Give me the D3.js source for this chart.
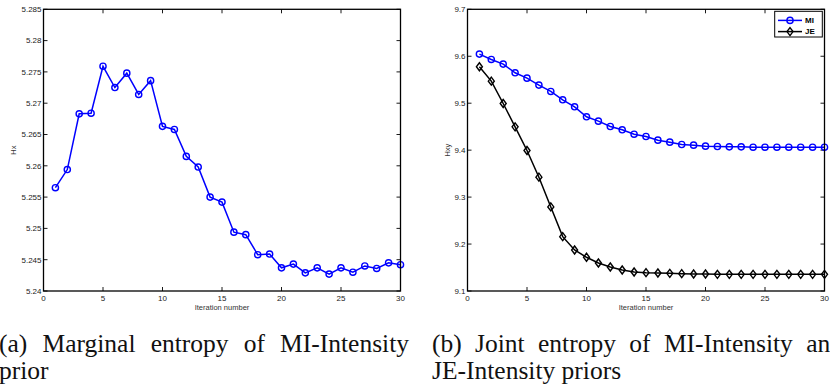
<!DOCTYPE html>
<html>
<head>
<meta charset="utf-8">
<script src="https://cdn.jsdelivr.net/npm/d3@7"></script>
<style>
  html, body { margin: 0; padding: 0; background: #fff; overflow: hidden; }
  svg { display: block; }
  .tick-label { font-family: "Liberation Sans", Arial, sans-serif; font-size: 8px; fill: #222; }
  .axis-title { font-family: "Liberation Sans", Arial, sans-serif; font-size: 7.5px; fill: #333; }
  .caption { font-family: "Liberation Serif", "Times New Roman", serif; font-size: 25.5px; fill: #111; }
</style>
</head>
<body>
<svg id="chart" width="830" height="385"></svg>
<script>
// Iteration index shared by both panels
const iterations = d3.range(1, 31);

// Panel (a): marginal entropy Hx of the MI-Intensity prior
const hxValues = [
  5.2565, 5.2594, 5.2683, 5.2684, 5.2759, 5.2725, 5.2748, 5.2714, 5.2736, 5.2663,
  5.2658, 5.2615, 5.2598, 5.2550, 5.2542, 5.2494, 5.2490, 5.2458, 5.2459, 5.2437,
  5.2443, 5.2429, 5.2437, 5.2427, 5.2437, 5.2430, 5.2440, 5.2436, 5.2445, 5.2442
];

// Panel (b): joint entropy Hxy for the two priors
const hxyMI = [
  9.6046, 9.5932, 9.5833, 9.5648, 9.5534, 9.5385, 9.5250, 9.5072, 9.4923, 9.4710,
  9.4618, 9.4504, 9.4433, 9.4340, 9.4291, 9.4213, 9.4170, 9.4120, 9.4106, 9.4085,
  9.4078, 9.4070, 9.4070, 9.4063, 9.4063, 9.4063, 9.4063, 9.4063, 9.4063, 9.4063
];
const hxyJE = [
  9.5776, 9.5470, 9.4994, 9.4497, 9.3992, 9.3424, 9.2791, 9.2158, 9.1874, 9.1718,
  9.1597, 9.1512, 9.1448, 9.1405, 9.1391, 9.1384, 9.1377, 9.1370, 9.1362, 9.1362,
  9.1355, 9.1355, 9.1355, 9.1355, 9.1355, 9.1355, 9.1355, 9.1355, 9.1355, 9.1355
];

// Tick values
const xTicks = [0, 5, 10, 15, 20, 25, 30];
const hxTicks = [5.24, 5.245, 5.25, 5.255, 5.26, 5.265, 5.27, 5.275, 5.28, 5.285];
const hxyTicks = [9.1, 9.2, 9.3, 9.4, 9.5, 9.6, 9.7];

// Captions
const captionA = ["(a) Marginal entropy of MI-Intensity", "prior"];
const captionB = ["(b) Joint entropy of MI-Intensity and", "JE-Intensity priors"];

const svg = d3.select("#chart");

function drawPanel(opts) {
  const { left, right, top, bottom, yDomain, yTicks, yFmt, yTitle, titleX } = opts;
  const x = d3.scaleLinear().domain([0, 30]).range([left, right]);
  const y = d3.scaleLinear().domain(yDomain).range([bottom, top]);
  const g = svg.append("g");
  const tickLen = 4;

  // ticks on all four sides, pointing inward
  const tickG = g.append("g").attr("stroke", "#000").attr("stroke-width", 0.9);
  xTicks.forEach(t => {
    tickG.append("line").attr("x1", x(t)).attr("x2", x(t)).attr("y1", bottom).attr("y2", bottom - tickLen);
    tickG.append("line").attr("x1", x(t)).attr("x2", x(t)).attr("y1", top).attr("y2", top + tickLen);
  });
  yTicks.forEach(t => {
    tickG.append("line").attr("x1", left).attr("x2", left + tickLen).attr("y1", y(t)).attr("y2", y(t));
    tickG.append("line").attr("x1", right).attr("x2", right - tickLen).attr("y1", y(t)).attr("y2", y(t));
  });

  // tick labels
  g.selectAll(".xl").data(xTicks).join("text")
    .attr("class", "tick-label")
    .attr("x", d => x(d)).attr("y", bottom + 10)
    .attr("text-anchor", "middle")
    .text(d => d);
  g.selectAll(".yl").data(yTicks).join("text")
    .attr("class", "tick-label")
    .attr("x", left - 2).attr("y", d => y(d))
    .attr("dy", "0.35em")
    .attr("text-anchor", "end")
    .text(yFmt);

  // axis titles
  g.append("text").attr("class", "axis-title")
    .attr("x", (left + right) / 2).attr("y", bottom + 19)
    .attr("text-anchor", "middle")
    .text("Iteration number");
  g.append("text").attr("class", "axis-title")
    .attr("transform", `translate(${titleX},${(top + bottom) / 2}) rotate(-90)`)
    .attr("text-anchor", "middle")
    .attr("dy", "0.35em")
    .text(yTitle);

  return { g, x, y };
}

function drawSeries(panel, values, color, marker) {
  const { g, x, y } = panel;
  const line = d3.line().x((d, i) => x(iterations[i])).y(d => y(d));
  g.append("path")
    .datum(values)
    .attr("d", line)
    .attr("fill", "none")
    .attr("stroke", color)
    .attr("stroke-width", 1.5);
  const m = g.append("g").attr("fill", "none").attr("stroke", color).attr("stroke-width", 1.4);
  values.forEach((v, i) => {
    const cx = x(iterations[i]), cy = y(v);
    if (marker === "circle") {
      m.append("circle").attr("cx", cx).attr("cy", cy).attr("r", 3.1);
    } else {
      m.append("path").attr("d", `M${cx},${cy - 4}L${cx + 3},${cy}L${cx},${cy + 4}L${cx - 3},${cy}Z`);
    }
  });
}

function drawFrame(panel, left, right, top, bottom) {
  panel.g.append("rect")
    .attr("x", left).attr("y", top)
    .attr("width", right - left).attr("height", bottom - top)
    .attr("fill", "none").attr("stroke", "#000").attr("stroke-width", 1.3);
}

// Panel (a)
const pA = { left: 43.5, right: 400.5, top: 9.3, bottom: 291 };
const panelA = drawPanel({
  ...pA, yDomain: [5.24, 5.285], yTicks: hxTicks,
  yFmt: d => String(+d.toFixed(3)), yTitle: "Hx", titleX: 13
});
drawSeries(panelA, hxValues, "#0000ff", "circle");
drawFrame(panelA, pA.left, pA.right, pA.top, pA.bottom);

// Panel (b)
const pB = { left: 467.5, right: 824.5, top: 9.3, bottom: 291 };
const panelB = drawPanel({
  ...pB, yDomain: [9.1, 9.7], yTicks: hxyTicks,
  yFmt: d => d.toFixed(1), yTitle: "Hxy", titleX: 447
});
drawSeries(panelB, hxyMI, "#0000ff", "circle");
drawSeries(panelB, hxyJE, "#000000", "diamond");
drawFrame(panelB, pB.left, pB.right, pB.top, pB.bottom);

// Legend of panel (b)
const legend = svg.append("g");
legend.append("rect")
  .attr("x", 774.7).attr("y", 11.3).attr("width", 47.6).attr("height", 25.7)
  .attr("fill", "#fff").attr("stroke", "#000").attr("stroke-width", 1);
[
  { name: "MI", color: "#0000ff", marker: "circle", cy: 20.4 },
  { name: "JE", color: "#000000", marker: "diamond", cy: 31.6 }
].forEach(item => {
  legend.append("line")
    .attr("x1", 778).attr("x2", 802).attr("y1", item.cy).attr("y2", item.cy)
    .attr("stroke", item.color).attr("stroke-width", 1.5);
  const mx = 790;
  if (item.marker === "circle") {
    legend.append("circle").attr("cx", mx).attr("cy", item.cy).attr("r", 3.1)
      .attr("fill", "none").attr("stroke", item.color).attr("stroke-width", 1.4);
  } else {
    legend.append("path")
      .attr("d", `M${mx},${item.cy - 4}L${mx + 3},${item.cy}L${mx},${item.cy + 4}L${mx - 3},${item.cy}Z`)
      .attr("fill", "none").attr("stroke", item.color).attr("stroke-width", 1.4);
  }
  legend.append("text")
    .attr("x", 805).attr("y", item.cy).attr("dy", "0.35em")
    .attr("font-family", "Liberation Sans, Arial, sans-serif")
    .attr("font-size", "8px").attr("font-weight", "bold").attr("fill", "#000")
    .text(item.name);
});

// Captions: first line justified across the column, second line flush left
function drawCaption(lines, x0, width, baseline, lineGap) {
  const g = svg.append("g");
  // first line, word by word
  const words = lines[0].split(" ");
  const nodes = words.map(w => g.append("text").attr("class", "caption").attr("y", baseline).text(w));
  const widths = nodes.map(n => n.node().getComputedTextLength());
  const total = d3.sum(widths);
  const gap = (width - total) / (words.length - 1);
  let cx = x0;
  nodes.forEach((n, i) => { n.attr("x", cx); cx += widths[i] + gap; });
  g.append("text").attr("class", "caption")
    .attr("x", x0).attr("y", baseline + lineGap)
    .text(lines[1]);
}
drawCaption(captionA, -1, 410, 352, 26.5);
drawCaption(captionB, 432, 411, 352, 26.5);
</script>
</body>
</html>
